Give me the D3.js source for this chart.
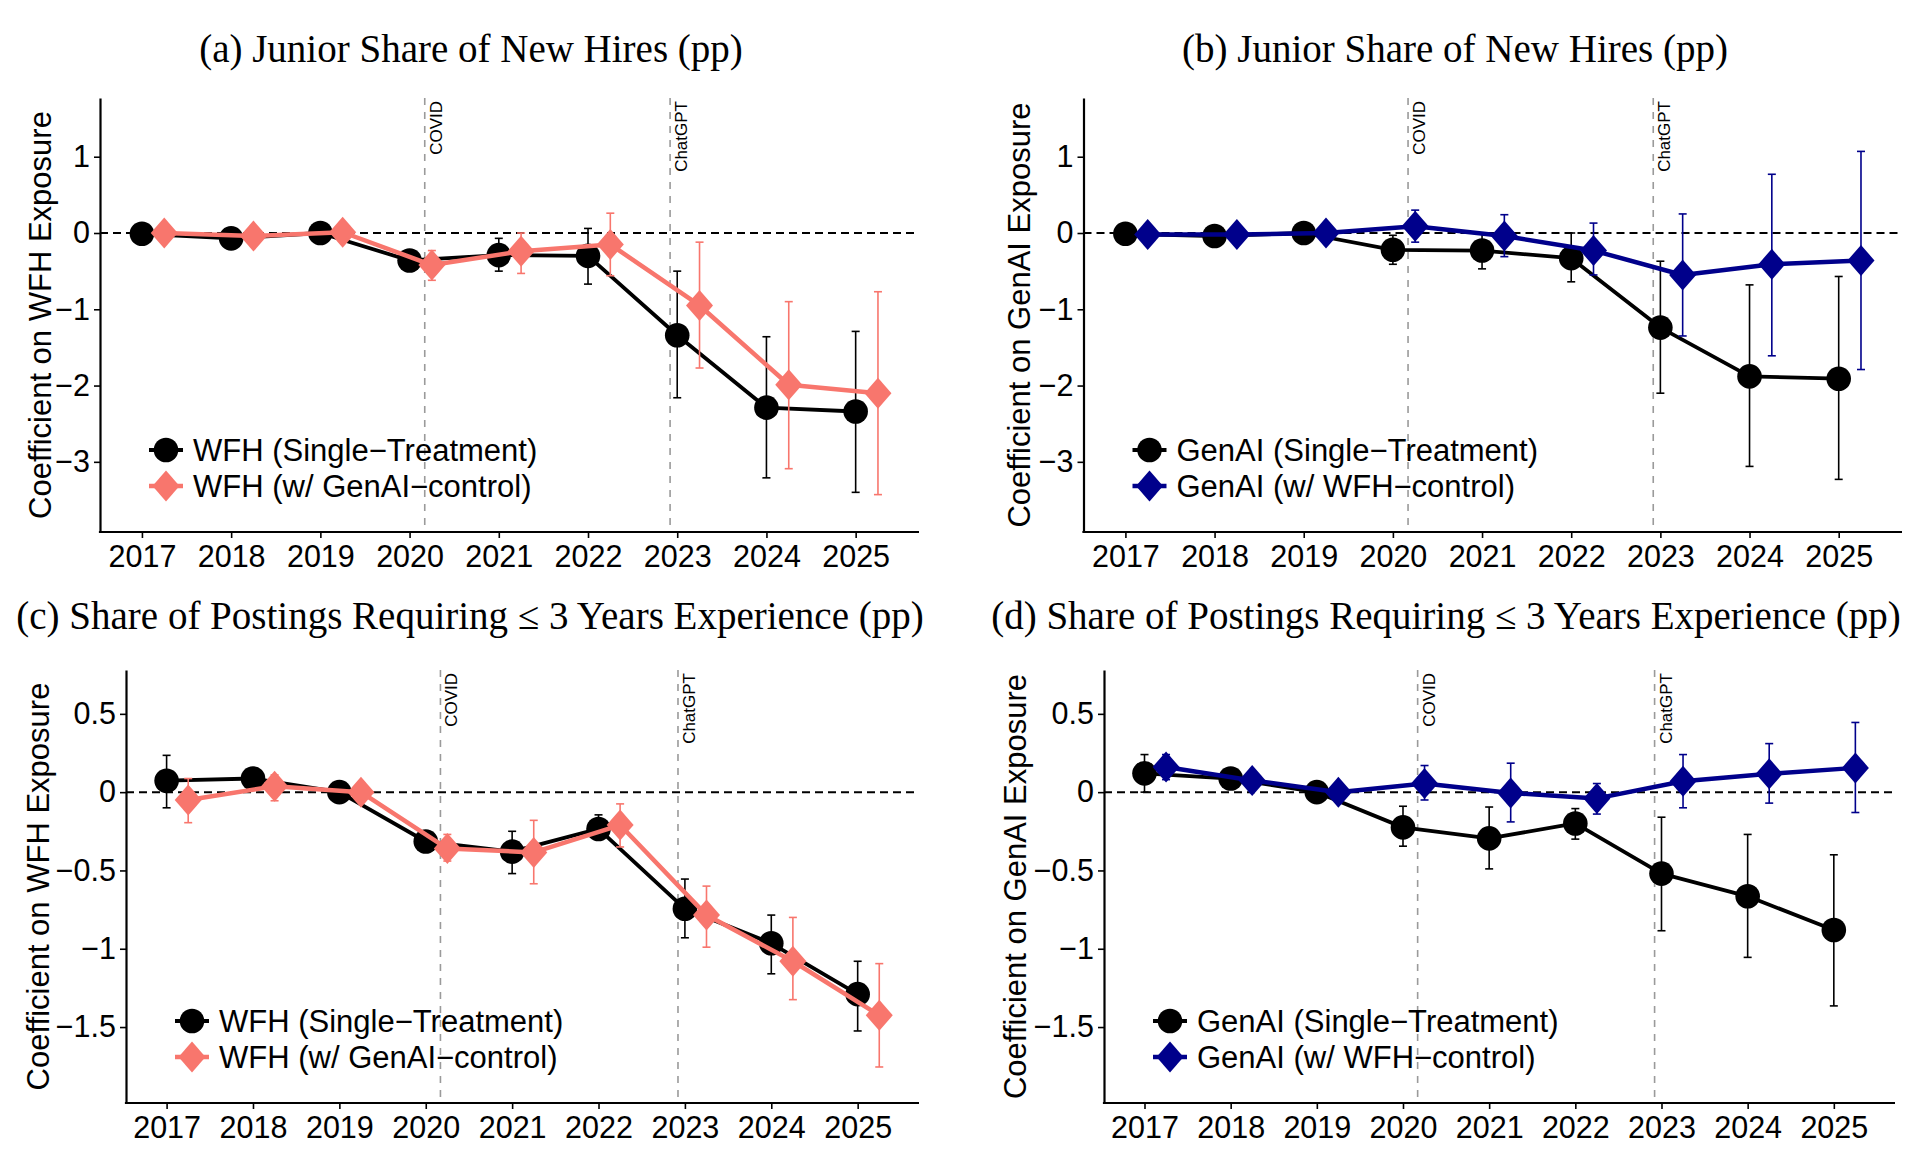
<!DOCTYPE html>
<html><head><meta charset="utf-8">
<script src="https://cdn.jsdelivr.net/npm/d3@7"></script>
<style>body{margin:0;background:#fff}</style>
</head><body>
<svg id="chart" width="1932" height="1162"></svg>
<script>
// ---------- DATA ----------
const years = [2017, 2018, 2019, 2020, 2021, 2022, 2023, 2024, 2025];
const events = [2020.17, 2022.92];
const eventLabels = ["COVID", "ChatGPT"];

const titles = [
  "(a) Junior Share of New Hires (pp)",
  "(b) Junior Share of New Hires (pp)",
  "(c) Share of Postings Requiring \u2264 3 Years Experience (pp)",
  "(d) Share of Postings Requiring \u2264 3 Years Experience (pp)"
];
const yLabels = ["Coefficient on WFH Exposure", "Coefficient on GenAI Exposure",
                 "Coefficient on WFH Exposure", "Coefficient on GenAI Exposure"];
const legendWFH = ["WFH (Single\u2212Treatment)", "WFH (w/ GenAI\u2212control)"];
const legendGenAI = ["GenAI (Single\u2212Treatment)", "GenAI (w/ WFH\u2212control)"];

const yTicksTop = [-3, -2, -1, 0, 1];
const yTickLabelsTop = ["\u22123", "\u22122", "\u22121", "0", "1"];
const yTicksBottom = [-1.5, -1, -0.5, 0, 0.5];
const yTickLabelsBottom = ["\u22121.5", "\u22121", "\u22120.5", "0", "0.5"];
const xTickLabels = ["2017", "2018", "2019", "2020", "2021", "2022", "2023", "2024", "2025"];

// Panel (a): WFH, junior share of new hires
const aSingle   = [-0.01, -0.07, 0.00, -0.36, -0.29, -0.30, -1.34, -2.29, -2.34];
const aSingleLo = [-0.05, -0.11, -0.03, -0.45, -0.50, -0.67, -2.16, -3.21, -3.40];
const aSingleHi = [ 0.03, -0.03, 0.03, -0.27, -0.07,  0.06, -0.50, -1.36, -1.29];
const aCtrl     = [ 0.00, -0.04, 0.01, -0.42, -0.24, -0.15, -0.95, -1.99, -2.10];
const aCtrlLo   = [-0.06, -0.10, -0.05, -0.62, -0.53, -0.56, -1.77, -3.09, -3.43];
const aCtrlHi   = [ 0.06,  0.02, 0.07, -0.23,  0.00,  0.26, -0.12, -0.90, -0.77];

// Panel (b): GenAI, junior share of new hires
const bSingle   = [-0.01, -0.04, 0.00, -0.22, -0.23, -0.33, -1.24, -1.88, -1.91];
const bSingleLo = [-0.05, -0.08, -0.03, -0.41, -0.47, -0.64, -2.10, -3.06, -3.23];
const bSingleHi = [ 0.03,  0.00, 0.03, -0.03, -0.01,  0.00, -0.37, -0.68, -0.57];
const bCtrl     = [-0.02, -0.02, 0.00,  0.09, -0.04, -0.23, -0.55, -0.41, -0.36];
const bCtrlLo   = [-0.07, -0.07, -0.04, -0.12, -0.31, -0.55, -1.35, -1.61, -1.79];
const bCtrlHi   = [ 0.03,  0.03, 0.04,  0.30,  0.24,  0.13,  0.25,  0.77,  1.07];

// Panel (c): WFH, postings requiring <= 3 years
const cSingle   = [ 0.073, 0.087, 0.00, -0.315, -0.38, -0.235, -0.745, -0.965, -1.29];
const cSingleLo = [-0.10,  0.060, -0.02, -0.36, -0.52, -0.28, -0.93, -1.16, -1.525];
const cSingleHi = [ 0.235, 0.115, 0.02, -0.27, -0.25, -0.145, -0.555, -0.785, -1.08];
const cCtrl     = [-0.05,  0.038, 0.00, -0.36, -0.385, -0.21, -0.785, -1.08, -1.425];
const cCtrlLo   = [-0.195, -0.055, -0.02, -0.44, -0.585, -0.35, -0.99, -1.325, -1.755];
const cCtrlHi   = [ 0.087, 0.11, 0.02, -0.27, -0.18, -0.075, -0.60, -0.80, -1.095];

// Panel (d): GenAI, postings requiring <= 3 years
const dSingle   = [0.12, 0.087, 0.00, -0.225, -0.295, -0.20, -0.52, -0.665, -0.88];
const dSingleLo = [0.00, 0.05, -0.02, -0.345, -0.49, -0.30, -0.885, -1.055, -1.365];
const dSingleHi = [0.24, 0.125, 0.02, -0.09, -0.095, -0.105, -0.16, -0.27, -0.40];
const dCtrl     = [0.16, 0.075, 0.00, 0.055, -0.005, -0.04, 0.07, 0.117, 0.155];
const dCtrlLo   = [0.08, 0.035, -0.02, -0.05, -0.19, -0.14, -0.10, -0.07, -0.13];
const dCtrlHi   = [0.24, 0.115, 0.02, 0.17, 0.185, 0.055, 0.24, 0.31, 0.445];

// ---------- STYLE / LAYOUT ----------
const PINK = "#F8766D", NAVY = "#00008B";
const SANS = "'Liberation Sans', Arial, Helvetica, sans-serif";
const SERIF = "'Liberation Serif', 'Times New Roman', serif";
const xDomain = [2016.53, 2025.71];
const dodge = 0.25;

const panels = [
  {title: titles[0], ylab: yLabels[0], legend: legendWFH, color: PINK,
   data: [[aSingle, aSingleLo, aSingleHi], [aCtrl, aCtrlLo, aCtrlHi]],
   yDomain: [-3.92, 1.77], ticks: yTicksTop, tickLabels: yTickLabelsTop,
   box: {l: 100, r: 919, t: 98, b: 532}, titleX: 471, titleY: 62, ylabX: 40},
  {title: titles[1], ylab: yLabels[1], legend: legendGenAI, color: NAVY,
   data: [[bSingle, bSingleLo, bSingleHi], [bCtrl, bCtrlLo, bCtrlHi]],
   yDomain: [-3.92, 1.77], ticks: yTicksTop, tickLabels: yTickLabelsTop,
   box: {l: 1083.5, r: 1902, t: 98, b: 532}, titleX: 1455, titleY: 62, ylabX: 1019},
  {title: titles[2], ylab: yLabels[2], legend: legendWFH, color: PINK,
   data: [[cSingle, cSingleLo, cSingleHi], [cCtrl, cCtrlLo, cCtrlHi]],
   yDomain: [-1.985, 0.78], ticks: yTicksBottom, tickLabels: yTickLabelsBottom,
   box: {l: 126, r: 919, t: 670, b: 1103}, titleX: 470, titleY: 629, ylabX: 38},
  {title: titles[3], ylab: yLabels[3], legend: legendGenAI, color: NAVY,
   data: [[dSingle, dSingleLo, dSingleHi], [dCtrl, dCtrlLo, dCtrlHi]],
   yDomain: [-1.985, 0.78], ticks: yTicksBottom, tickLabels: yTickLabelsBottom,
   box: {l: 1104, r: 1895, t: 670, b: 1103}, titleX: 1446, titleY: 629, ylabX: 1015}
];

const svg = d3.select("#chart");
svg.append("rect").attr("width", 1932).attr("height", 1162).attr("fill", "#fff");

const R = 12.3, DW = 13.5, DH = 15.5;
function diamondPath(cx, cy) {
  return `M${cx},${cy - DH}L${cx + DW},${cy}L${cx},${cy + DH}L${cx - DW},${cy}Z`;
}

panels.forEach(p => {
  const g = svg.append("g");
  const x = d3.scaleLinear().domain(xDomain).range([p.box.l, p.box.r]);
  const y = d3.scaleLinear().domain(p.yDomain).range([p.box.b, p.box.t]);

  // title
  g.append("text").attr("x", p.titleX).attr("y", p.titleY)
    .attr("text-anchor", "middle").attr("font-family", SERIF).attr("font-size", 39)
    .attr("fill", "#000").text(p.title);

  // zero reference line
  g.append("line").attr("x1", p.box.l).attr("x2", p.box.r)
    .attr("y1", y(0)).attr("y2", y(0))
    .attr("stroke", "#000").attr("stroke-width", 2).attr("stroke-dasharray", "8,5");

  // event lines and labels
  events.forEach((ev, i) => {
    g.append("line").attr("x1", x(ev)).attr("x2", x(ev))
      .attr("y1", p.box.t).attr("y2", p.box.b)
      .attr("stroke", "#9a9a9a").attr("stroke-width", 1.6).attr("stroke-dasharray", "7,7");
    g.append("text")
      .attr("transform", `translate(${x(ev) + 17},${p.box.t + 3}) rotate(-90)`)
      .attr("text-anchor", "end").attr("font-family", SANS).attr("font-size", 17)
      .attr("fill", "#000").text(eventLabels[i]);
  });

  // series
  p.data.forEach((s, si) => {
    const [est, lo, hi] = s;
    const off = si === 0 ? 0 : dodge;
    const col = si === 0 ? "#000" : p.color;
    const sg = g.append("g");
    // error bars
    years.forEach((yr, i) => {
      const cx = x(yr + off);
      sg.append("line").attr("x1", cx).attr("x2", cx).attr("y1", y(lo[i])).attr("y2", y(hi[i]))
        .attr("stroke", col).attr("stroke-width", 1.6);
      [lo[i], hi[i]].forEach(v => {
        sg.append("line").attr("x1", cx - 4).attr("x2", cx + 4).attr("y1", y(v)).attr("y2", y(v))
          .attr("stroke", col).attr("stroke-width", 1.6);
      });
    });
    // connecting line
    const line = d3.line().x((d, i) => x(years[i] + off)).y(d => y(d));
    sg.append("path").datum(est).attr("d", line).attr("fill", "none")
      .attr("stroke", col).attr("stroke-width", si === 0 ? 3.8 : 4.5).attr("stroke-linejoin", "round");
    // markers
    years.forEach((yr, i) => {
      const cx = x(yr + off), cy = y(est[i]);
      if (si === 0) sg.append("circle").attr("cx", cx).attr("cy", cy).attr("r", R).attr("fill", col);
      else sg.append("path").attr("d", diamondPath(cx, cy)).attr("fill", col);
    });
  });

  // axes
  const xAxis = d3.axisBottom(x).tickValues(years).tickFormat((d, i) => xTickLabels[i])
    .tickSize(6).tickSizeOuter(0).tickPadding(7);
  const gx = g.append("g").attr("transform", `translate(0,${p.box.b})`).call(xAxis);
  const yAxis = d3.axisLeft(y).tickValues(p.ticks).tickFormat((d, i) => p.tickLabels[i])
    .tickSize(6).tickSizeOuter(0).tickPadding(4);
  const gy = g.append("g").attr("transform", `translate(${p.box.l},0)`).call(yAxis);
  [gx, gy].forEach(ax => {
    ax.select(".domain").attr("stroke", "#000").attr("stroke-width", 2.2);
    ax.selectAll(".tick line").attr("stroke", "#000").attr("stroke-width", 1.6);
    ax.selectAll(".tick text").attr("font-family", SANS).attr("font-size", 30.5).attr("fill", "#000");
  });
  // make axes meet at corner
  gx.select(".domain").attr("d", `M${p.box.l - 1.1},0H${p.box.r}`);

  // y label
  g.append("text")
    .attr("transform", `translate(${p.ylabX},${(p.box.t + p.box.b) / 2}) rotate(-90)`)
    .attr("text-anchor", "middle").attr("dy", "0.35em")
    .attr("font-family", SANS).attr("font-size", 31).attr("fill", "#000").text(p.ylab);

  // legend
  const kx = p.box.l + 66;
  [p.box.b - 82, p.box.b - 46].forEach((ky, li) => {
    const col = li === 0 ? "#000" : p.color;
    g.append("line").attr("x1", kx - 17).attr("x2", kx + 17).attr("y1", ky).attr("y2", ky)
      .attr("stroke", col).attr("stroke-width", li === 0 ? 3.8 : 4.5);
    if (li === 0) g.append("circle").attr("cx", kx).attr("cy", ky).attr("r", R).attr("fill", col);
    else g.append("path").attr("d", diamondPath(kx, ky)).attr("fill", col);
    g.append("text").attr("x", kx + 27).attr("y", ky).attr("dy", "0.35em")
      .attr("font-family", SANS).attr("font-size", 31).attr("fill", "#000").text(p.legend[li]);
  });
});
</script>
</body></html>
